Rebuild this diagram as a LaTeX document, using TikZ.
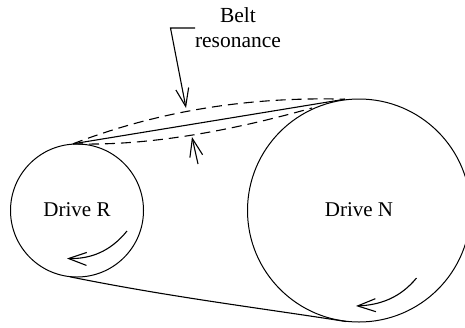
\documentclass[tikz,border=0pt]{standalone}
\usepackage{fontspec}
\setmainfont{Liberation Serif}
\usetikzlibrary{arrows.meta}
\tikzset{
  pulley/.style={circle,draw,line width=1pt,inner sep=0pt,minimum size=#1,font=\fontsize{21}{25}\selectfont},
  beltline/.style={line width=1.1pt},
  beltdash/.style={line width=1.1pt,dash pattern=on 10pt off 6pt},
  openarrow/.style={line width=1.1pt,-{Straight Barb[length=18pt,width=13pt,line width=1.1pt]}},
  labeltext/.style={align=center,font=\fontsize{21.5}{25.5}\selectfont,inner sep=0pt}
}
\begin{document}
\begin{tikzpicture}[x=1pt,y=-1pt]
\useasboundingbox (0,0) rectangle (465,327);
\clip (0,0) rectangle (465,327);
\node[pulley=133pt] (R) at (77,210.5) {\raisebox{2pt}{Drive R}};
\node[pulley=223pt] (N) at (359,210.5) {\raisebox{2pt}{Drive N}};
\coordinate (rtop) at (73,143.8);
\coordinate (ntop) at (345,99.2);
\coordinate (rbot) at (70,276.8);
\coordinate (nbot) at (346,321.5);
\coordinate (nlow) at (312,108);
\draw[beltline] (rtop) -- (ntop);
\draw[beltline] (rbot) .. controls (170,297) and (260,308) .. (nbot);
\draw[beltdash] (rtop) .. controls (140,118) and (230,96) .. (ntop);
\draw[beltdash] (rtop) .. controls (140,146) and (220,134) .. (nlow);
\coordinate (lead0) at (195,28);
\coordinate (lead1) at (170.5,28);
\coordinate (lead2) at (186,108);
\draw[openarrow] (lead0) -- (lead1) -- (lead2);
\coordinate (low0) at (198,164);
\coordinate (low1) at (192,137);
\draw[openarrow] (low0) -- (low1);
\coordinate (ra) at (127,231);
\coordinate (rb) at (67,258.5);
\draw[openarrow] (ra) .. controls (110,252) and (90,259) .. (rb);
\coordinate (na) at (416.5,278);
\coordinate (nb) at (356,306);
\draw[openarrow] (na) .. controls (400,298) and (380,305) .. (nb);
\node[labeltext] (belt) at (238,27.5) {Belt\\resonance};
\end{tikzpicture}
\end{document}
